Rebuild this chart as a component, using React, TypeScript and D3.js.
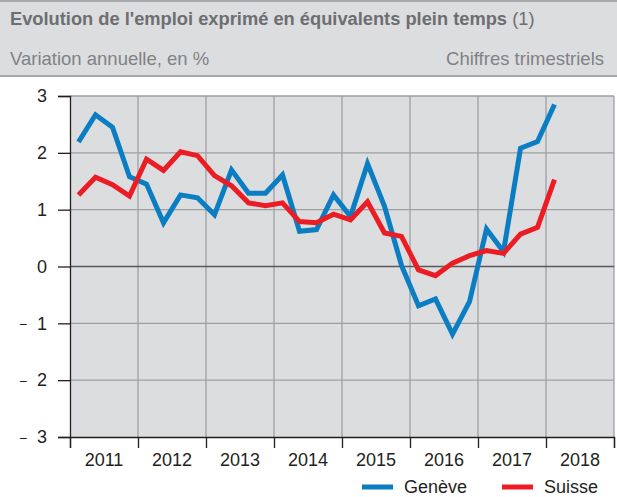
import React, { useEffect, useRef } from 'react';
import * as d3 from 'd3';

// quarterly data, 2011 Q1 -> 2018 Q1
const geneve = [2.19, 2.67, 2.45, 1.58, 1.45, 0.77, 1.26, 1.21, 0.91, 1.70, 1.29, 1.29, 1.61, 0.62, 0.65, 1.26, 0.88, 1.81, 1.06, 0.02, -0.69, -0.57, -1.19, -0.62, 0.66, 0.26, 2.08, 2.20, 2.85];
const suisse = [1.26, 1.57, 1.44, 1.24, 1.89, 1.69, 2.02, 1.95, 1.60, 1.42, 1.12, 1.07, 1.12, 0.79, 0.77, 0.92, 0.82, 1.14, 0.59, 0.53, -0.06, -0.16, 0.06, 0.19, 0.28, 0.23, 0.57, 0.69, 1.53];
const years = [2011, 2012, 2013, 2014, 2015, 2016, 2017, 2018];
const yTicks = [3, 2, 1, 0, -1, -2, -3];

const BLUE = '#0a7dc3';
const RED = '#ec1c24';
const FONT = '"Liberation Sans", Arial, sans-serif';

function App() {
    const ref = useRef<SVGSVGElement>(null);

    useEffect(() => {
        const width = 617;
        const height = 497;
        const svg = d3.select(ref.current);
        svg.selectAll('*').remove();
        svg.attr('width', width).attr('height', height)
            .style('display', 'block')
            .style('font-family', FONT);

        // header band
        svg.append('rect').attr('x', 0).attr('y', 0).attr('width', width).attr('height', 76).attr('fill', '#dcdddf');
        svg.append('line').attr('x1', 0).attr('x2', width).attr('y1', 1).attr('y2', 1).attr('stroke', '#a7a9ac').attr('stroke-width', 2);
        svg.append('line').attr('x1', 0).attr('x2', width).attr('y1', 76).attr('y2', 76).attr('stroke', '#a7a9ac').attr('stroke-width', 2);

        const title = svg.append('text').attr('x', 10).attr('y', 25)
            .attr('font-size', 18.3).attr('fill', '#6d6e71');
        title.append('tspan').attr('font-weight', 'bold').text("Evolution de l'emploi exprimé en équivalents plein temps");
        title.append('tspan').text(' (1)');

        svg.append('text').attr('x', 10).attr('y', 65).attr('font-size', 18.5).attr('fill', '#808285')
            .text('Variation annuelle, en %');
        svg.append('text').attr('x', 604).attr('y', 65).attr('font-size', 18.5).attr('fill', '#808285')
            .attr('text-anchor', 'end').text('Chiffres trimestriels');

        // scales
        const x = d3.scaleLinear().domain([2011, 2019]).range([70, 614]);
        const y = d3.scaleLinear().domain([-3, 3]).range([437, 96]);

        svg.append('rect').attr('x', x(2011)).attr('y', y(3))
            .attr('width', x(2019) - x(2011)).attr('height', y(-3) - y(3))
            .attr('fill', '#dcdddf');

        // grid
        svg.append('g').selectAll('line').data([2012, 2013, 2014, 2015, 2016, 2017, 2018, 2019]).join('line')
            .attr('x1', (d) => x(d)).attr('x2', (d) => x(d))
            .attr('y1', y(3)).attr('y2', y(-3))
            .attr('stroke', '#9d9fa2').attr('stroke-width', 1.3);
        svg.append('g').selectAll('line').data([3, 2, 1, -1, -2]).join('line')
            .attr('x1', x(2011)).attr('x2', x(2019))
            .attr('y1', (d) => y(d)).attr('y2', (d) => y(d))
            .attr('stroke', '#9d9fa2').attr('stroke-width', 1.3);
        svg.append('line').attr('x1', x(2011)).attr('x2', x(2019)).attr('y1', y(0)).attr('y2', y(0))
            .attr('stroke', '#58595b').attr('stroke-width', 1.5);

        // y axis (digits via axis, minus signs drawn apart, wide gap like the original)
        const yAxis = svg.append('g').attr('transform', `translate(${x(2011)},0)`)
            .call(d3.axisLeft(y).tickValues(yTicks).tickSize(12).tickPadding(11)
                .tickFormat((d) => String(Math.abs(+d))));
        yAxis.select('.domain').attr('stroke', '#231f20').attr('stroke-width', 1.3);
        yAxis.selectAll('.tick line').attr('stroke', '#231f20').attr('stroke-width', 1.3);
        yAxis.selectAll('.tick text').attr('font-size', 18).attr('fill', '#231f20')
            .attr('font-family', FONT);
        yAxis.selectAll('.tick').filter((d: any) => d < 0).append('text')
            .attr('x', -51).attr('dy', '0.36em').attr('font-size', 14).attr('fill', '#231f20')
            .attr('font-family', FONT).attr('text-anchor', 'start').text('\u2212');

        // x axis
        const xAxis = svg.append('g').attr('transform', `translate(0,${y(-3)})`)
            .call(d3.axisBottom(x).tickValues(d3.range(2011, 2020)).tickSize(11).tickFormat(() => ''));
        xAxis.select('.domain').attr('stroke', '#231f20').attr('stroke-width', 1.3);
        xAxis.selectAll('.tick line').attr('stroke', '#231f20').attr('stroke-width', 1.3);
        svg.append('g').selectAll('text').data(years).join('text')
            .attr('x', (d) => x(d + 0.5)).attr('y', 466)
            .attr('text-anchor', 'middle').attr('font-size', 18).attr('fill', '#231f20')
            .text((d) => d);

        // lines
        const qx = (i: number) => x(2011 + (i + 0.5) / 4);
        const line = d3.line<number>().x((d, i) => qx(i)).y((d) => y(d));
        svg.append('path').datum(geneve).attr('fill', 'none').attr('stroke', BLUE)
            .attr('stroke-width', 5).attr('stroke-linejoin', 'miter').attr('d', line);
        svg.append('path').datum(suisse).attr('fill', 'none').attr('stroke', RED)
            .attr('stroke-width', 5).attr('stroke-linejoin', 'miter').attr('d', line);

        // legend
        const legend = [
            { name: 'Genève', color: BLUE, x: 362 },
            { name: 'Suisse', color: RED, x: 502 },
        ];
        const lg = svg.append('g').selectAll('g').data(legend).join('g')
            .attr('transform', (d) => `translate(${d.x},487)`);
        lg.append('line').attr('x1', 0).attr('x2', 31).attr('y1', 0).attr('y2', 0)
            .attr('stroke', (d) => d.color).attr('stroke-width', 5);
        lg.append('text').attr('x', 42).attr('y', 6).attr('font-size', 18).attr('fill', '#231f20')
            .text((d) => d.name);
    });

    return (
        <div style={{ position: 'absolute', left: 0, top: 0 }}>
            <svg ref={ref}></svg>
        </div>
    );
}

export default App;
